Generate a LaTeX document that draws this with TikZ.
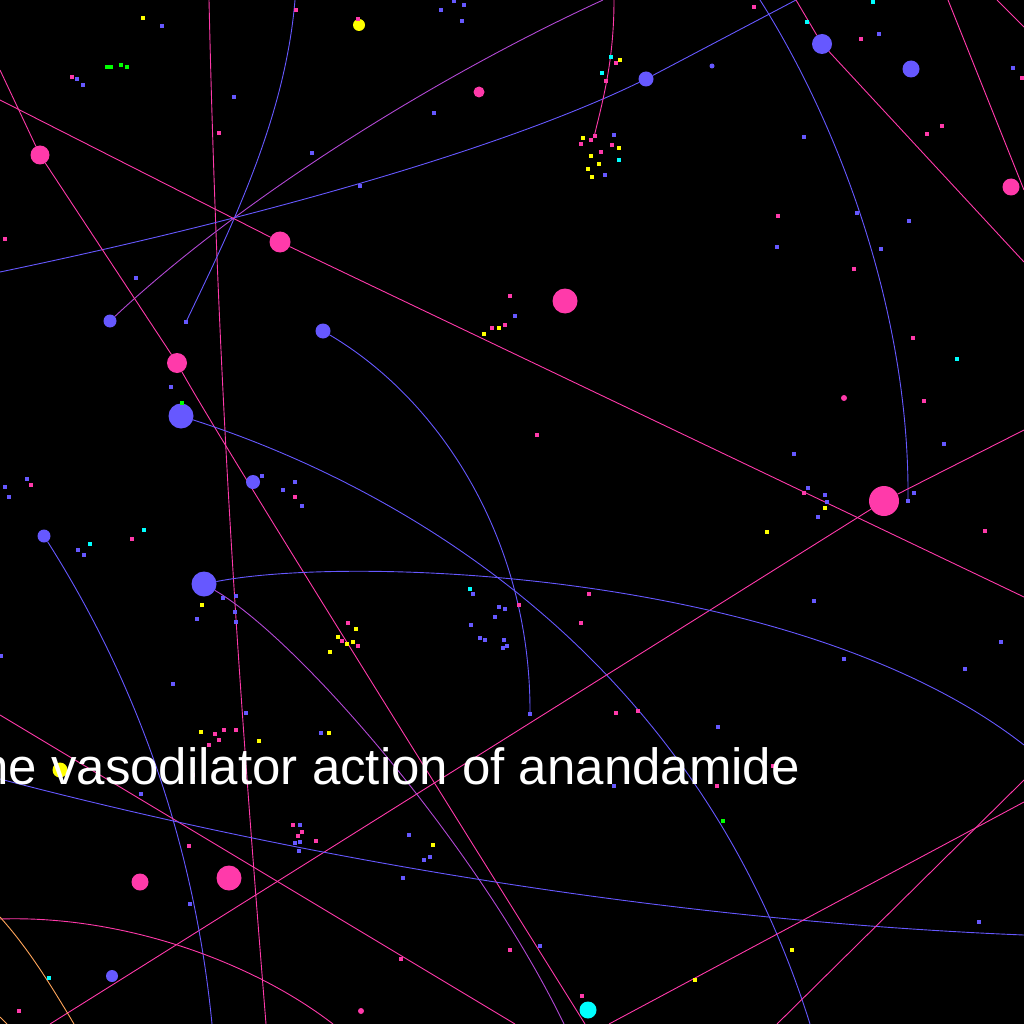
\documentclass[tikz,border=0pt]{standalone}
\usepackage{fontspec}
\setmainfont{Liberation Sans}
\usepackage{tikz}
\usetikzlibrary{backgrounds}
\definecolor{rose}{RGB}{255,58,170}
\definecolor{iris}{RGB}{102,88,255}
\definecolor{plum}{RGB}{178,72,212}
\definecolor{lemon}{RGB}{255,255,0}
\definecolor{aqua}{RGB}{0,255,255}
\definecolor{lime}{RGB}{0,255,0}
\definecolor{peach}{RGB}{255,165,90}
\tikzstyle{hub}=[
  circle,
  draw=none,
  inner sep=0pt,
  outer sep=0pt,
]
\tikzstyle{speck}=[
  rectangle,
  draw=none,
  inner sep=0pt,
  outer sep=0pt,
  minimum size=4.6pt,
]
\tikzstyle{link}=[
  line width=.9pt,
]
\tikzstyle{caption}=[
  anchor=base east,
  inner sep=0pt,
  text=white,
  font={\fontsize{51pt}{60pt}\selectfont},
]
\tikzset{
  x=1pt,
  y=-1pt,
}
\begin{document}
\begin{tikzpicture}
  \useasboundingbox (0,0) rectangle (1024,1024);
  \clip (0,0) rectangle (1024,1024);
  % hubs
  \node (ya) [hub, fill=lemon, minimum size=12pt] at (359,25) {};
  \node (pa) [hub, fill=rose, minimum size=11pt] at (479,92) {};
  \node (pb) [hub, fill=rose, minimum size=19pt] at (40,155) {};
  \node (pc) [hub, fill=rose, minimum size=21pt] at (280,242) {};
  \node (ba) [hub, fill=iris, minimum size=13pt] at (110,321) {};
  \node (bb) [hub, fill=iris, minimum size=15pt] at (323,331) {};
  \node (pd) [hub, fill=rose, minimum size=20pt] at (177,363) {};
  \node (bc) [hub, fill=iris, minimum size=25pt] at (181,416) {};
  \node (pe) [hub, fill=rose, minimum size=25pt] at (565,301) {};
  \node (bd) [hub, fill=iris, minimum size=14pt] at (253,482) {};
  \node (be) [hub, fill=iris, minimum size=13pt] at (44,536) {};
  \node (bf) [hub, fill=iris, minimum size=25pt] at (204,584) {};
  \node (bg) [hub, fill=iris, minimum size=15pt] at (646,79) {};
  \node (bh) [hub, fill=iris, minimum size=20pt] at (822,44) {};
  \node (bi) [hub, fill=iris, minimum size=17pt] at (911,69) {};
  \node (bk) [hub, fill=iris, minimum size=5pt] at (712,66) {};
  \node (pf) [hub, fill=rose, minimum size=17pt] at (1011,187) {};
  \node (pg) [hub, fill=rose, minimum size=30pt] at (884,501) {};
  \node (pj) [hub, fill=rose, minimum size=6pt] at (844,398) {};
  \node (yb) [hub, fill=lemon, minimum size=15pt] at (60,770) {};
  \node (ph) [hub, fill=rose, minimum size=17pt] at (140,882) {};
  \node (pi) [hub, fill=rose, minimum size=25pt] at (229,878) {};
  \node (bj) [hub, fill=iris, minimum size=12pt] at (112,976) {};
  \node (pk) [hub, fill=rose, minimum size=6pt] at (361,1011) {};
  \node (ca) [hub, fill=aqua, minimum size=17pt] at (588,1010) {};
  % specks
  \foreach \p [count=\i] in {(296,10),(358,19),(72,77),(219,133),(5,239),(510,296),
      (492,328),(505,325),(295,497),(31,485),(754,7),(861,39),(1022,78),(616,63),
      (606,81),(595,136),(591,140),(581,144),(612,145),(601,152),(942,126),(927,134),
      (778,216),(854,269),(913,338),(924,401),(537,435),(804,493),(132,539),(348,623),
      (342,641),(358,646),(215,734),(219,740),(224,730),(236,730),(209,745),(193,775),
      (293,825),(302,832),(298,836),(316,841),(189,846),(19,1011),(401,959),(510,950),
      (985,531),(589,594),(519,605),(581,623),(616,713),(638,711),(773,766),(717,786),
      (582,996)}
    \node (rs\i) [speck, fill=rose] at \p {};
  \foreach \p [count=\i] in {(162,26),(77,79),(83,85),(441,10),(454,1),(464,5),(462,21),
      (234,97),(434,113),(312,153),(360,186),(136,278),(186,322),(171,387),(262,476),
      (295,482),(283,490),(302,506),(27,479),(5,487),(9,497),(879,34),(1013,68),(614,135),
      (605,175),(804,137),(857,213),(909,221),(777,247),(881,249),(515,316),(944,444),
      (794,454),(808,488),(825,495),(827,502),(914,493),(908,501),(78,550),(84,555),
      (223,598),(236,596),(235,612),(236,622),(197,619),(1,656),(173,684),(246,713),
      (473,594),(499,607),(505,609),(495,617),(471,625),(480,638),(485,640),(504,640),
      (503,648),(507,646),(321,733),(141,794),(300,825),(295,843),(300,842),(299,851),
      (409,835),(430,857),(424,860),(403,878),(190,904),(818,517),(814,601),(1001,642),
      (844,659),(965,669),(530,714),(718,727),(614,786),(979,922),(540,946)}
    \node (is\i) [speck, fill=iris] at \p {};
  \foreach \p [count=\i] in {(143,18),(484,334),(499,328),(620,60),(583,138),(619,148),
      (591,156),(599,164),(588,169),(592,177),(825,508),(202,605),(356,629),(338,637),
      (347,644),(353,642),(330,652),(201,732),(259,741),(329,733),(433,845),(767,532),
      (792,950),(695,980)}
    \node (ls\i) [speck, fill=lemon] at \p {};
  \foreach \p [count=\i] in {(873,2),(807,22),(611,57),(602,73),(619,160),(957,359),
      (90,544),(144,530),(470,589),(49,978)}
    \node (as\i) [speck, fill=aqua] at \p {};
  \foreach \p [count=\i] in {(107,67),(111,67),(121,65),(127,67),(182,403),(723,821)}
    \node (gs\i) [speck, fill=lime] at \p {};
  % links
  \begin{scope}[on background layer]
    \fill [black] (0,0) rectangle (1024,1024);
    \coordinate (a0) at (209,0);    \coordinate (a1) at (266,1024);
    \coordinate (b0) at (295,0);    \coordinate (b1) at (186,322);
    \coordinate (c1) at (603,0);
    \coordinate (d0) at (0,272);    \coordinate (d1) at (796,0);
    \coordinate (e0) at (0,100);    \coordinate (e1) at (1024,597);
    \coordinate (f0) at (0,70);     \coordinate (f1) at (585,1024);
    \coordinate (g1) at (810,1024);
    \coordinate (h1) at (530,714);
    \coordinate (i0) at (760,0);    \coordinate (i1) at (908,501);
    \coordinate (j0) at (796,0);    \coordinate (j1) at (1024,262);
    \coordinate (k0) at (948,0);    \coordinate (k1) at (1024,190);
    \coordinate (l0) at (997,0);    \coordinate (l1) at (1024,27);
    \coordinate (m0) at (614,0);    \coordinate (m1) at (594,137);
    \coordinate (n0) at (1024,430); \coordinate (n1) at (50,1024);
    \coordinate (o1) at (1024,745);
    \coordinate (p1) at (564,1024);
    \coordinate (r1) at (212,1024);
    \coordinate (s0) at (0,715);    \coordinate (s1) at (515,1024);
    \coordinate (t0) at (0,779);    \coordinate (t1) at (1024,935);
    \coordinate (u0) at (0,919);    \coordinate (u1) at (333,1024);
    \coordinate (v0) at (0,917);    \coordinate (v1) at (74,1024);
    \coordinate (w0) at (0,1017);   \coordinate (w1) at (7,1024);
    \coordinate (x0) at (1024,780); \coordinate (x1) at (777,1024);
    \coordinate (y0) at (1024,802); \coordinate (y1) at (609,1024);
    \draw [link, rose] (a0) .. controls (218,400) and (240,700) .. (a1);
    \draw [link, iris] (b0) .. controls (285,120) and (230,230) .. (b1);
    \draw [link, plum] (ba) .. controls (250,190) and (450,70) .. (c1);
    \draw [link, iris] (d0) .. controls (250,220) and (500,150) .. (bg) -- (d1);
    \draw [link, rose] (e0) -- (pc) -- (e1);
    \draw [link, rose] (f0) -- (pb) -- (pd) .. controls (220,440) and (420,760) .. (f1);
    \draw [link, iris] (bc) .. controls (380,480) and (690,640) .. (g1);
    \draw [link, iris] (bb) .. controls (440,400) and (531,540) .. (h1);
    \draw [link, iris] (i0) .. controls (830,110) and (910,300) .. (i1);
    \draw [link, rose] (j0) -- (bh) -- (j1);
    \draw [link, rose] (k0) -- (k1);
    \draw [link, rose] (l0) -- (l1);
    \draw [link, rose] (m0) .. controls (614,60) and (603,100) .. (m1);
    \draw [link, rose] (n0) -- (pg) -- (n1);
    \draw [link, iris] (bf) .. controls (350,555) and (800,570) .. (o1);
    \draw [link, plum] (bf) .. controls (300,640) and (480,850) .. (p1);
    \draw [link, iris] (be) .. controls (110,640) and (190,800) .. (r1);
    \draw [link, rose] (s0) -- (s1);
    \draw [link, iris] (t0) .. controls (340,868) and (700,922) .. (t1);
    \draw [link, rose] (u0) .. controls (120,915) and (250,960) .. (u1);
    \draw [link, peach] (v0) .. controls (25,945) and (45,975) .. (v1);
    \draw [link, peach] (w0) -- (w1);
    \draw [link, rose] (x0) -- (x1);
    \draw [link, rose] (y0) -- (y1);
  \end{scope}
  \node (title) [caption] at (800,784) {he vasodilator action of anandamide};
\end{tikzpicture}
\end{document}
